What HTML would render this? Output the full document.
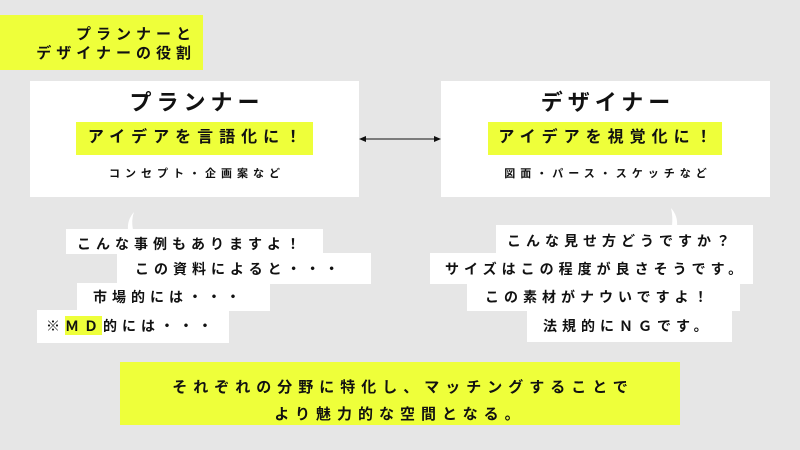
<!DOCTYPE html>
<html><head><meta charset="utf-8"><style>
body{margin:0;width:800px;height:450px;background:#e6e6e6;position:relative;overflow:hidden;font-family:"Liberation Sans","Noto Sans CJK JP",sans-serif;color:#111;font-weight:bold}
.a{position:absolute}
.y{background:#eeff3a}
.w{background:#fff}
.t{position:absolute;white-space:nowrap;letter-spacing:5px;font-size:14px;line-height:14px}
</style></head><body>
<div class="a y" style="left:0;top:15px;width:203px;height:55px"></div>
<div class="t" style="right:604px;top:25px;font-size:15px;line-height:19px;text-align:right;letter-spacing:5px">プランナーと<br>デザイナーの役割</div>

<div class="a w" style="left:30px;top:81px;width:329px;height:116px"></div>
<div class="t" style="left:30px;width:329px;text-align:center;top:92px;font-size:22px;line-height:22px;letter-spacing:5px;text-indent:5px">プランナー</div>
<div class="a y" style="left:76px;top:122px;width:237px;height:33px"></div>
<div class="t" style="left:76px;width:237px;text-align:center;top:130px;font-size:16px;line-height:16px;letter-spacing:6px;text-indent:6px">アイデアを言語化に！</div>
<div class="t" style="left:30px;width:329px;text-align:center;top:169px;font-size:11px;line-height:11px;letter-spacing:5px;text-indent:5px">コンセプト・企画案など</div>

<div class="a w" style="left:441px;top:81px;width:329px;height:116px"></div>
<div class="t" style="left:441px;width:329px;text-align:center;top:92px;font-size:22px;line-height:22px;letter-spacing:5px;text-indent:5px">デザイナー</div>
<div class="a y" style="left:488px;top:122px;width:234px;height:33px"></div>
<div class="t" style="left:488px;width:234px;text-align:center;top:130px;font-size:16px;line-height:16px;letter-spacing:6px;text-indent:6px">アイデアを視覚化に！</div>
<div class="t" style="left:441px;width:329px;text-align:center;top:169px;font-size:11px;line-height:11px;letter-spacing:5px;text-indent:5px">図面・パース・スケッチなど</div>

<svg class="a" style="left:0;top:0" width="800" height="450">
<line x1="362" y1="139" x2="438" y2="139" stroke="#111" stroke-width="1"/>
<polygon points="359,139 366,136 366,142" fill="#111"/>
<polygon points="441,139 434,136 434,142" fill="#111"/>
<path d="M134,212 Q127,220 128,230 L133,230 Q131,220 134,212Z" fill="#fff"/>
<path d="M671,208 Q678,216 677,226 L672,226 Q673,216 671,208Z" fill="#fff"/>
</svg>

<div class="a w" style="left:66px;top:229px;width:257px;height:25px"></div>
<div class="a w" style="left:117px;top:253px;width:254px;height:31px"></div>
<div class="a w" style="left:77px;top:283px;width:193px;height:28px"></div>
<div class="a w" style="left:37px;top:310px;width:192px;height:33px"></div>
<div class="a y" style="left:65px;top:316px;width:37px;height:19px"></div>
<div class="t" style="left:77px;top:237px">こんな事例もありますよ！</div>
<div class="t" style="left:135px;top:262px">この資料によると・・・</div>
<div class="t" style="left:93px;top:290px">市場的には・・・</div>
<div class="t" style="left:46px;top:319px">※ＭＤ的には・・・</div>

<div class="a w" style="left:496px;top:225px;width:257px;height:29px"></div>
<div class="a w" style="left:430px;top:253px;width:323px;height:31px"></div>
<div class="a w" style="left:467px;top:283px;width:273px;height:28px"></div>
<div class="a w" style="left:527px;top:310px;width:205px;height:32px"></div>
<div class="t" style="left:507px;top:234px">こんな見せ方どうですか？</div>
<div class="t" style="left:445px;top:262px">サイズはこの程度が良さそうです。</div>
<div class="t" style="left:485px;top:290px">この素材がナウいですよ！</div>
<div class="t" style="left:543px;top:319px">法規的にＮＧです。</div>

<div class="a y" style="left:120px;top:362px;width:560px;height:63px"></div>
<div class="t" style="left:120px;width:560px;text-align:center;top:374px;font-size:15px;line-height:27px;letter-spacing:6px;text-indent:6px">それぞれの分野に特化し、マッチングすることで<br>より魅力的な空間となる。</div>
</body></html>
